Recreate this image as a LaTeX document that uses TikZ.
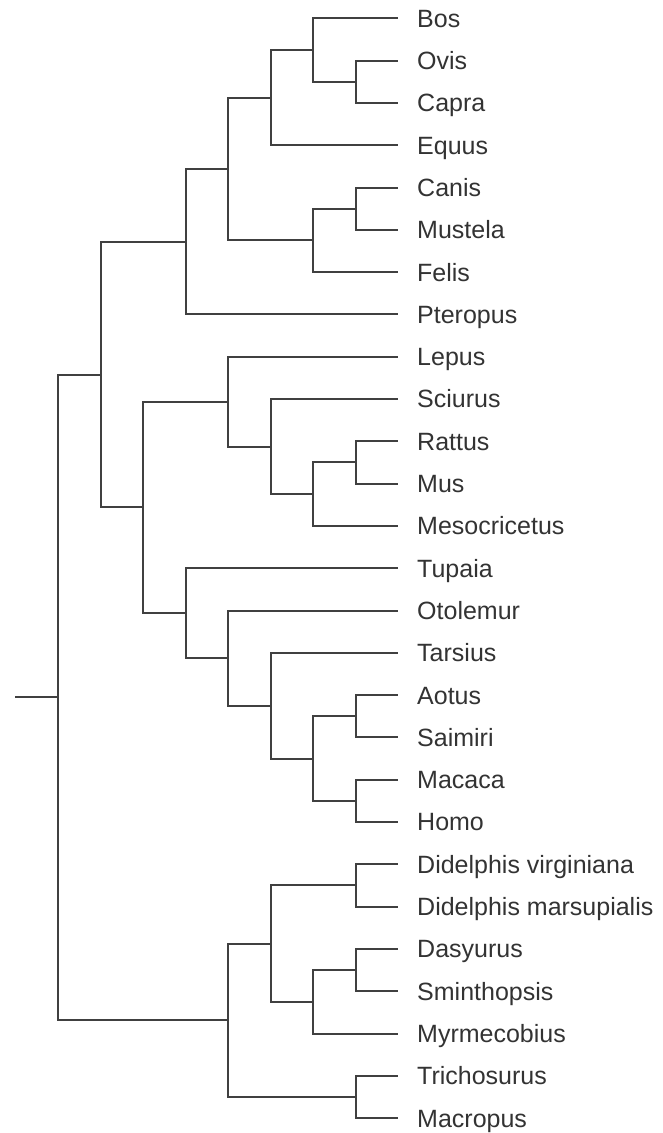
\documentclass[tikz,border=0pt]{standalone}
\usepackage{fontspec}
\setmainfont{Liberation Sans}
\definecolor{treegray}{RGB}{64,64,64}
\definecolor{labelgray}{RGB}{51,51,51}
\tikzset{
  branch/.style={draw=treegray, line width=2pt},
  leaf/.style={anchor=west, inner xsep=19pt, inner ysep=0pt,
    text height=17.9pt, text depth=0pt, text=labelgray,
    font=\fontsize{25}{30}\selectfont}
}

\begin{document}
\begin{tikzpicture}[x=1pt, y=-1pt]
  \useasboundingbox (0,0) rectangle (663,1133);
  % leaves
  \foreach \nm/\txt [count=\i from 0] in {bos/Bos, ovis/Ovis, capra/Capra, equus/Equus,
      canis/Canis, mustela/Mustela, felis/Felis, pteropus/Pteropus, lepus/Lepus,
      sciurus/Sciurus, rattus/Rattus, mus/Mus, meso/Mesocricetus, tupaia/Tupaia,
      otolemur/Otolemur, tarsius/Tarsius, aotus/Aotus, saimiri/Saimiri, macaca/Macaca,
      homo/Homo, dvirg/Didelphis virginiana, dmars/Didelphis marsupialis,
      dasyurus/Dasyurus, sminth/Sminthopsis, myrme/Myrmecobius, tricho/Trichosurus,
      macropus/Macropus}
    \node[leaf] (\nm) at (398, {18.3+42.3*\i}) {\txt};
  % placentals
  \coordinate (ovcap) at (355.5,81.75);
  \coordinate (bovid) at (313,50.0);
  \coordinate (ungul) at (270.5,97.6);
  \coordinate (canmus) at (355.5,208.65);
  \coordinate (carniv) at (313,240.4);
  \coordinate (laura) at (228,169.0);
  \coordinate (lauras) at (185.5,241.7);
  \coordinate (murid) at (355.5,462.45);
  \coordinate (muroid) at (313,494.2);
  \coordinate (rodent) at (270.5,446.6);
  \coordinate (glires) at (228,401.6);
  \coordinate (aotsai) at (355.5,716.25);
  \coordinate (machom) at (355.5,800.85);
  \coordinate (anthro) at (313,758.55);
  \coordinate (haplo) at (270.5,705.7);
  \coordinate (primate) at (228,658.1);
  \coordinate (euarch) at (185.5,613.1);
  \coordinate (supra) at (143,507.4);
  \coordinate (placent) at (100.5,374.5);
  % marsupials
  \coordinate (didel) at (355.5,885.45);
  \coordinate (dasyin) at (355.5,970.05);
  \coordinate (dasyur) at (313,1001.8);
  \coordinate (ameri) at (270.5,943.6);
  \coordinate (dipro) at (355.5,1096.95);
  \coordinate (marsup) at (228,1020.3);
  % root
  \coordinate (root) at (58,697.4);
  \coordinate (stub) at (15,697.4);

  \draw[branch] (stub) -- (root);
  \draw[branch] (root) |- (placent) (root) |- (marsup);
  \draw[branch] (placent) |- (lauras) (placent) |- (supra);
  \draw[branch] (lauras) |- (laura) (lauras) |- (pteropus.west);
  \draw[branch] (laura) |- (ungul) (laura) |- (carniv);
  \draw[branch] (ungul) |- (bovid) (ungul) |- (equus.west);
  \draw[branch] (bovid) |- (bos.west) (bovid) |- (ovcap);
  \draw[branch] (ovcap) |- (ovis.west) (ovcap) |- (capra.west);
  \draw[branch] (carniv) |- (canmus) (carniv) |- (felis.west);
  \draw[branch] (canmus) |- (canis.west) (canmus) |- (mustela.west);
  %
  \draw[branch] (supra) |- (glires) (supra) |- (euarch);
  \draw[branch] (glires) |- (lepus.west) (glires) |- (rodent);
  \draw[branch] (rodent) |- (sciurus.west) (rodent) |- (muroid);
  \draw[branch] (muroid) |- (murid) (muroid) |- (meso.west);
  \draw[branch] (murid) |- (rattus.west) (murid) |- (mus.west);
  \draw[branch] (euarch) |- (tupaia.west) (euarch) |- (primate);
  \draw[branch] (primate) |- (otolemur.west) (primate) |- (haplo);
  \draw[branch] (haplo) |- (tarsius.west) (haplo) |- (anthro);
  \draw[branch] (anthro) |- (aotsai) (anthro) |- (machom);
  \draw[branch] (aotsai) |- (aotus.west) (aotsai) |- (saimiri.west);
  \draw[branch] (machom) |- (macaca.west) (machom) |- (homo.west);
  %
  \draw[branch] (marsup) |- (ameri) (marsup) |- (dipro);
  \draw[branch] (ameri) |- (didel) (ameri) |- (dasyur);
  \draw[branch] (didel) |- (dvirg.west) (didel) |- (dmars.west);
  \draw[branch] (dasyur) |- (dasyin) (dasyur) |- (myrme.west);
  \draw[branch] (dasyin) |- (dasyurus.west) (dasyin) |- (sminth.west);
  \draw[branch] (dipro) |- (tricho.west) (dipro) |- (macropus.west);
\end{tikzpicture}
\end{document}
